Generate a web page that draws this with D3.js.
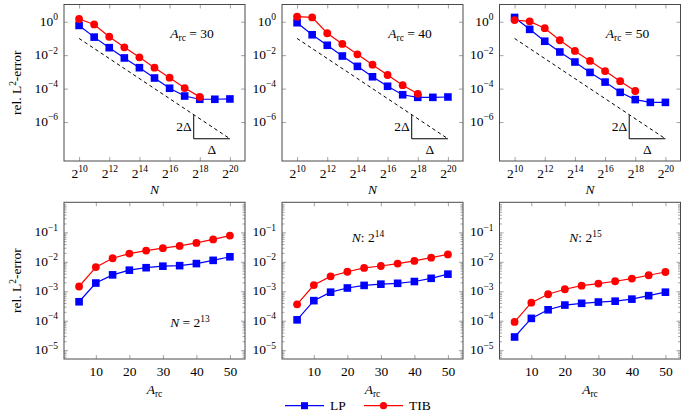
<!DOCTYPE html>
<html><head><meta charset="utf-8">
<script src="https://cdn.jsdelivr.net/npm/d3@7"></script>
<style>
body{margin:0;background:#fff;}
svg, svg text, svg tspan{font-family:"Liberation Serif","DejaVu Serif","Times New Roman",Times,serif !important;}
</style></head>
<body><svg id="c" width="686" height="416" font-family="Liberation Serif, DejaVu Serif, serif"></svg>
<script>
// ---------- data ----------
const nExp = [10,11,12,13,14,15,16,17,18,19,20];          // N = 2^e
const nTicks = [10,12,14,16,18,20];
const topYTicks = [1e0,1e-2,1e-4,1e-6];
const arcTop = [30,40,50];
const lpTop = [
  [0.60,0.12,0.028,0.0068,0.00178,4.3e-4,1.05e-4,3.6e-5,2.3e-5,2.3e-5,2.4e-5],
  [0.87,0.166,0.039,0.0089,0.00214,5.1e-4,1.38e-4,4.3e-5,3.0e-5,3.0e-5,3.15e-5],
  [1.8,0.35,0.068,0.0155,0.0039,9.3e-4,2.45e-4,6.0e-5,2.2e-5,1.5e-5,1.5e-5]
];
const tibTop = [
  [1.45,0.69,0.126,0.0295,0.0074,0.00178,4.5e-4,1.07e-4,3.2e-5],
  [2.0,1.8,0.204,0.047,0.0112,0.0027,6.5e-4,1.6e-4,4.9e-5],
  [1.26,1.05,0.41,0.078,0.0178,0.0045,0.00112,2.8e-4,7.2e-5]
];
const refLineX = [10,20];
const refLineY = [1e-1,1e-7];
const triX = [17.6,17.6,20];
const triY = [2.6e-6,1e-7,1e-7];

const arcVals = [5,10,15,20,25,30,35,40,45,50];
const arcTicks = [10,20,30,40,50];
const botYTicks = [1e-1,1e-2,1e-3,1e-4,1e-5];
const nBottom = ["N = ", "N: ", "N: "];
const nBottomExp = [13,14,15];
const lpBot = [
  [4.4e-4,1.9e-3,3.6e-3,5.2e-3,6.3e-3,7.1e-3,7.4e-3,8.7e-3,0.0112,0.0148],
  [1.07e-4,4.8e-4,9.3e-4,1.29e-3,1.58e-3,1.74e-3,1.86e-3,2.14e-3,2.75e-3,3.8e-3],
  [2.8e-5,1.2e-4,2.35e-4,3.4e-4,3.9e-4,4.3e-4,4.6e-4,5.4e-4,7.1e-4,9.3e-4]
];
const tibBot = [
  [1.45e-3,6.6e-3,0.0132,0.019,0.024,0.029,0.0347,0.0437,0.0575,0.0776],
  [3.6e-4,1.62e-3,3.2e-3,4.6e-3,6.2e-3,7.2e-3,8.7e-3,0.0107,0.0138,0.0178],
  [9.1e-5,4.1e-4,7.9e-4,1.17e-3,1.55e-3,1.82e-3,2.19e-3,2.7e-3,3.5e-3,4.5e-3]
];
const legendLabels = ["LP","TIB"];

// ---------- layout ----------
const svg = d3.select("#c");
const colX = [64, 282, 499.5];
const W = 181;
const topRow = {y0:4.5, y1:161};
const botRow = {y0:202.3, y1:359};
const BLUE = "#0000ff", RED = "#ff0000";
const FRAME = "#4a4a4a", TICK = "#8c8c8c";
const FS = 13.5, SS = 9.5;
const SQ = 7.6, CR = 3.9;

function supLabel(textSel, base, exp, bs, es){
  textSel.text(null).attr("fill","#000");
  textSel.append("tspan").attr("font-size",bs).text(base);
  textSel.append("tspan").attr("font-size",es).attr("dy",-bs*0.42).text(exp);
}
function expStr(v){ const e=Math.round(Math.log10(v)); return (e<0?"\u2212":"")+Math.abs(e); }

function panel(x0, row, xs, ys, xTickVals, yTickVals, xFmt, minor){
  const g = svg.append("g");
  const gl = g.append("g").attr("transform",`translate(${x0},0)`)
    .call(d3.axisLeft(ys).tickValues(yTickVals).tickSize(-4).tickPadding(6).tickFormat(""));
  g.append("g").attr("transform",`translate(${x0+W},0)`)
    .call(d3.axisRight(ys).tickValues(yTickVals).tickSize(-4).tickFormat(""));
  const gb = g.append("g").attr("transform",`translate(0,${row.y1})`)
    .call(d3.axisBottom(xs).tickValues(xTickVals).tickSize(-4).tickPadding(8).tickFormat(""));
  g.append("g").attr("transform",`translate(0,${row.y0})`)
    .call(d3.axisTop(xs).tickValues(xTickVals).tickSize(-4).tickFormat(""));
  if(minor){
    const mv=[];
    const [lo,hi]=ys.domain();
    for(let k=Math.floor(Math.log10(lo));k<=Math.ceil(Math.log10(hi));k++)
      for(let m=2;m<=9;m++){const v=m*Math.pow(10,k); if(v>lo&&v<hi) mv.push(v);}
    g.append("g").attr("transform",`translate(${x0},0)`)
      .call(d3.axisLeft(ys).tickValues(mv).tickSize(-2.5).tickFormat(""));
    g.append("g").attr("transform",`translate(${x0+W},0)`)
      .call(d3.axisRight(ys).tickValues(mv).tickSize(-2.5).tickFormat(""));
  }
  g.selectAll(".domain").remove();
  g.selectAll(".tick line").attr("stroke",TICK).attr("stroke-width",0.8);
  g.selectAll(".tick text").attr("font-family",null);
  gl.selectAll(".tick text").each(function(d){
    const t=d3.select(this).attr("dy","0.35em").attr("x",-6);
    supLabel(t,"10",expStr(d),FS,SS);
  });
  gb.selectAll(".tick text").each(function(d){
    const t=d3.select(this).attr("dy",null).attr("y",17).attr("fill","#000");
    xFmt(t,d);
  });
  g.append("rect").attr("x",x0).attr("y",row.y0).attr("width",W).attr("height",row.y1-row.y0)
    .attr("fill","none").attr("stroke",FRAME).attr("stroke-width",1);
  return g;
}

function series(g, xs, ys, xv, yv, color, marker){
  const pts = yv.map((v,i)=>[xv[i],v]);
  g.append("path").datum(pts)
    .attr("d",d3.line().x(d=>xs(d[0])).y(d=>ys(d[1])))
    .attr("fill","none").attr("stroke",color).attr("stroke-width",1.2);
  if(marker==="sq"){
    g.selectAll(null).data(pts).enter().append("rect")
      .attr("x",d=>xs(d[0])-SQ/2).attr("y",d=>ys(d[1])-SQ/2)
      .attr("width",SQ).attr("height",SQ).attr("fill",color);
  } else {
    g.selectAll(null).data(pts).enter().append("circle")
      .attr("cx",d=>xs(d[0])).attr("cy",d=>ys(d[1])).attr("r",CR).attr("fill",color);
  }
}

// ---------- top row ----------
colX.forEach((x0,i)=>{
  const xs = d3.scaleLinear().domain([9,21]).range([x0,x0+W]);
  const ys = d3.scaleLog().domain([Math.pow(10,-8.33),Math.pow(10,1.03)]).range([topRow.y1,topRow.y0]);
  const g = panel(x0, topRow, xs, ys, nTicks, topYTicks, (t,d)=>supLabel(t,"2",String(d),FS,SS), false);
  g.append("path").datum(refLineX.map((v,k)=>[v,refLineY[k]]))
    .attr("d",d3.line().x(d=>xs(d[0])).y(d=>ys(d[1])))
    .attr("stroke","#000").attr("stroke-width",1).attr("stroke-dasharray","3.5,3").attr("fill","none");
  g.append("path").datum(triX.map((v,k)=>[v,triY[k]]))
    .attr("d",d3.line().x(d=>xs(d[0])).y(d=>ys(d[1])))
    .attr("stroke","#000").attr("stroke-width",1).attr("fill","none");
  const midY = Math.sqrt(triY[0]*triY[1]);
  g.append("text").attr("x",xs(triX[0])-2).attr("y",ys(midY)+4.5).attr("text-anchor","end")
    .attr("font-size",FS).text("2\u0394");
  g.append("text").attr("x",xs((triX[1]+triX[2])/2)).attr("y",ys(triY[2])+15).attr("text-anchor","middle")
    .attr("font-size",FS).text("\u0394");
  series(g, xs, ys, nExp, lpTop[i], BLUE, "sq");
  series(g, xs, ys, nExp, tibTop[i], RED, "ci");
  const t = g.append("text").attr("x",x0+128).attr("y",38).attr("text-anchor","middle").attr("font-size",FS);
  t.append("tspan").attr("font-style","italic").text("A");
  t.append("tspan").attr("font-size",SS).attr("dy",2.5).text("rc");
  t.append("tspan").attr("dy",-2.5).text(" = "+arcTop[i]);
  g.append("text").attr("x",x0+W/2).attr("y",194).attr("text-anchor","middle")
    .attr("font-size",FS).attr("font-style","italic").text("N");
});

// ---------- bottom row ----------
colX.forEach((x0,i)=>{
  const xs = d3.scaleLinear().domain([0.5,54.5]).range([x0,x0+W]);
  const ys = d3.scaleLog().domain([Math.pow(10,-5.3),Math.pow(10,0.02)]).range([botRow.y1,botRow.y0]);
  const g = panel(x0, botRow, xs, ys, arcTicks, botYTicks, (t,d)=>t.attr("font-size",FS).text(d), true);
  series(g, xs, ys, arcVals, lpBot[i], BLUE, "sq");
  series(g, xs, ys, arcVals, tibBot[i], RED, "ci");
  const ax = i===0 ? x0+126 : x0+86;
  const ay = i===0 ? 327 : 242;
  const t = g.append("text").attr("x",ax).attr("y",ay).attr("text-anchor","middle").attr("font-size",FS);
  t.append("tspan").attr("font-style","italic").text("N");
  t.append("tspan").text(nBottom[i].slice(1)+"2");
  t.append("tspan").attr("font-size",SS).attr("dy",-5.5).text(nBottomExp[i]);
  const xl = g.append("text").attr("x",x0+W/2).attr("y",394).attr("text-anchor","middle").attr("font-size",FS);
  xl.append("tspan").attr("font-style","italic").text("A");
  xl.append("tspan").attr("font-size",SS).attr("dy",2.5).text("rc");
});

// ---------- y labels ----------
[(topRow.y0+topRow.y1)/2, (botRow.y0+botRow.y1)/2].forEach(cy=>{
  const t = svg.append("text").attr("transform",`translate(21,${cy}) rotate(-90)`)
    .attr("text-anchor","middle").attr("font-size",FS);
  t.append("tspan").text("rel. L");
  t.append("tspan").attr("font-size",SS).attr("dy",-5.5).text("2");
  t.append("tspan").attr("dy",5.5).text("-error");
});

// ---------- legend ----------
const leg = svg.append("g");
const legX = [285, 364];
const legColors = [BLUE, RED];
legendLabels.forEach((lab,i)=>{
  const lx = legX[i], ly = 405.7;
  leg.append("line").attr("x1",lx).attr("x2",lx+39).attr("y1",ly).attr("y2",ly)
    .attr("stroke",legColors[i]).attr("stroke-width",1.2);
  if(i===0) leg.append("rect").attr("x",lx+19.5-3.5).attr("y",ly-3.5).attr("width",7).attr("height",7).attr("fill",BLUE);
  else leg.append("circle").attr("cx",lx+19.5).attr("cy",ly).attr("r",3.6).attr("fill",RED);
  leg.append("text").attr("x",lx+45).attr("y",ly+4.5).attr("font-size",FS).text(lab);
});
</script></body></html>
